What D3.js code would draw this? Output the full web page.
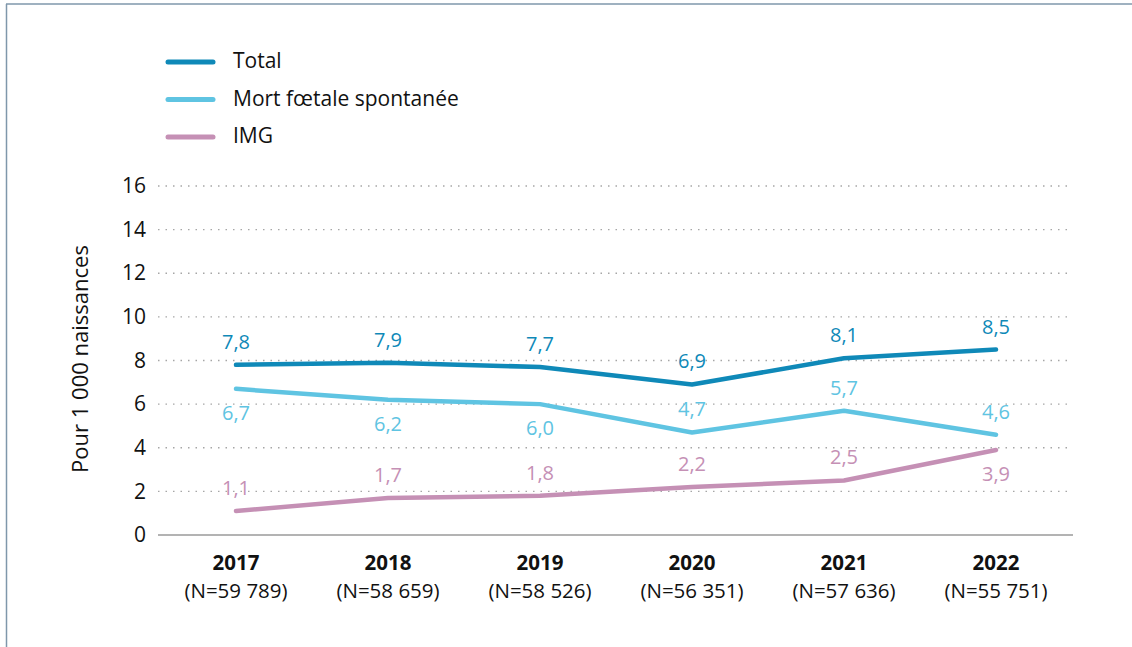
<!DOCTYPE html>
<html>
<head>
<meta charset="utf-8">
<script src="https://cdn.jsdelivr.net/npm/d3@7"></script>
<style>
  body { margin: 0; background: #fff; }
  svg { display: block; font-family: "Open Sans", "Noto Sans", sans-serif; }
</style>
</head>
<body>
<div id="chart"></div>
<script>
var years = ["2017", "2018", "2019", "2020", "2021", "2022"];
var counts = ["(N=59 789)", "(N=58 659)", "(N=58 526)", "(N=56 351)", "(N=57 636)", "(N=55 751)"];
var total = [7.8, 7.9, 7.7, 6.9, 8.1, 8.5];
var mort = [6.7, 6.2, 6.0, 4.7, 5.7, 4.6];
var img = [1.1, 1.7, 1.8, 2.2, 2.5, 3.9];
var yTicks = [0, 2, 4, 6, 8, 10, 12, 14, 16];

// label side per point: 1 = above, -1 = below
var series = [
    { name: "Total", values: total, color: "#0f89b8", side: [1, 1, 1, 1, 1, 1] },
    { name: "Mort fœtale spontanée", values: mort, color: "#5fc4e2", side: [-1, -1, -1, 1, 1, 1] },
    { name: "IMG", values: img, color: "#c590b5", side: [1, 1, 1, 1, 1, -1] }
];

var W = 1132, H = 647;
var svg = d3.select("#chart").append("svg")
    .attr("width", W)
    .attr("height", H);

// frame
svg.append("line").attr("x1", 6).attr("x2", W).attr("y1", 4).attr("y2", 4)
    .attr("stroke", "#7f97ab").attr("stroke-width", 1.5);
svg.append("line").attr("x1", 6.5).attr("x2", 6.5).attr("y1", 4).attr("y2", H)
    .attr("stroke", "#7f97ab").attr("stroke-width", 1.5);

var x = d3.scaleBand().domain(years).range([160, 1072]);
var y = d3.scaleLinear().domain([0, 16]).range([535, 186]);

// grid
svg.append("g").selectAll("line")
    .data(yTicks.filter(d => d > 0)).enter().append("line")
    .attr("x1", 158).attr("x2", 1068)
    .attr("y1", d => y(d)).attr("y2", d => y(d))
    .attr("stroke", "#a6a6a6").attr("stroke-width", 1.3)
    .attr("stroke-dasharray", "1.5,6");

// baseline
svg.append("line")
    .attr("x1", 158).attr("x2", 1073)
    .attr("y1", y(0)).attr("y2", y(0))
    .attr("stroke", "#9a9a9a").attr("stroke-width", 1.6);

// y axis labels
var yAxis = d3.axisLeft(y).tickValues(yTicks).tickSize(0).tickPadding(0);
var gy = svg.append("g").attr("transform", "translate(146,0)").call(yAxis);
gy.select(".domain").remove();
gy.selectAll("text")
    .attr("font-size", 21).attr("fill", "#111")
    .attr("font-family", "'Open Sans', sans-serif");

svg.append("text")
    .attr("transform", "translate(88," + 359 + ") rotate(-90)")
    .attr("text-anchor", "middle")
    .attr("font-size", 22).attr("fill", "#111")
    .text("Pour 1 000 naissances");

// x axis labels
var gx = svg.append("g");
gx.selectAll("text.year").data(years).enter().append("text")
    .attr("class", "year")
    .attr("x", d => x(d) + x.bandwidth() / 2).attr("y", 570)
    .attr("text-anchor", "middle")
    .attr("font-size", 20.5).attr("font-weight", "bold").attr("fill", "#111")
    .text(d => d);
gx.selectAll("text.n").data(years).enter().append("text")
    .attr("class", "n")
    .attr("x", d => x(d) + x.bandwidth() / 2).attr("y", 598)
    .attr("text-anchor", "middle")
    .attr("font-size", 20.5).attr("fill", "#111")
    .text((d, i) => counts[i]);

// lines
var line = d3.line()
    .x((d, i) => x(years[i]) + x.bandwidth() / 2)
    .y(d => y(d));

series.forEach(function (s) {
    svg.append("path")
        .datum(s.values)
        .attr("d", line)
        .attr("fill", "none")
        .attr("stroke", s.color)
        .attr("stroke-width", 4.5)
        .attr("stroke-linecap", "round")
        .attr("stroke-linejoin", "round");
});

series.forEach(function (s) {
    svg.append("g").selectAll("text")
        .data(s.values).enter().append("text")
        .attr("x", (d, i) => x(years[i]) + x.bandwidth() / 2)
        .attr("y", (d, i) => y(d) + (s.side[i] > 0 ? -16 : 31))
        .attr("text-anchor", "middle")
        .attr("font-size", 20)
        .attr("fill", s.color)
        .text(d => d3.format(".1f")(d).replace(".", ","));
});

// legend
var legend = svg.append("g").selectAll("g")
    .data(series).enter().append("g")
    .attr("transform", (d, i) => "translate(0," + (62 + i * 37.5) + ")");
legend.append("line")
    .attr("x1", 168).attr("x2", 213)
    .attr("stroke", d => d.color)
    .attr("stroke-width", 5)
    .attr("stroke-linecap", "round");
legend.append("text")
    .attr("x", 233).attr("y", 6)
    .attr("font-size", 21).attr("fill", "#111")
    .text(d => d.name);
</script>
</body>
</html>
